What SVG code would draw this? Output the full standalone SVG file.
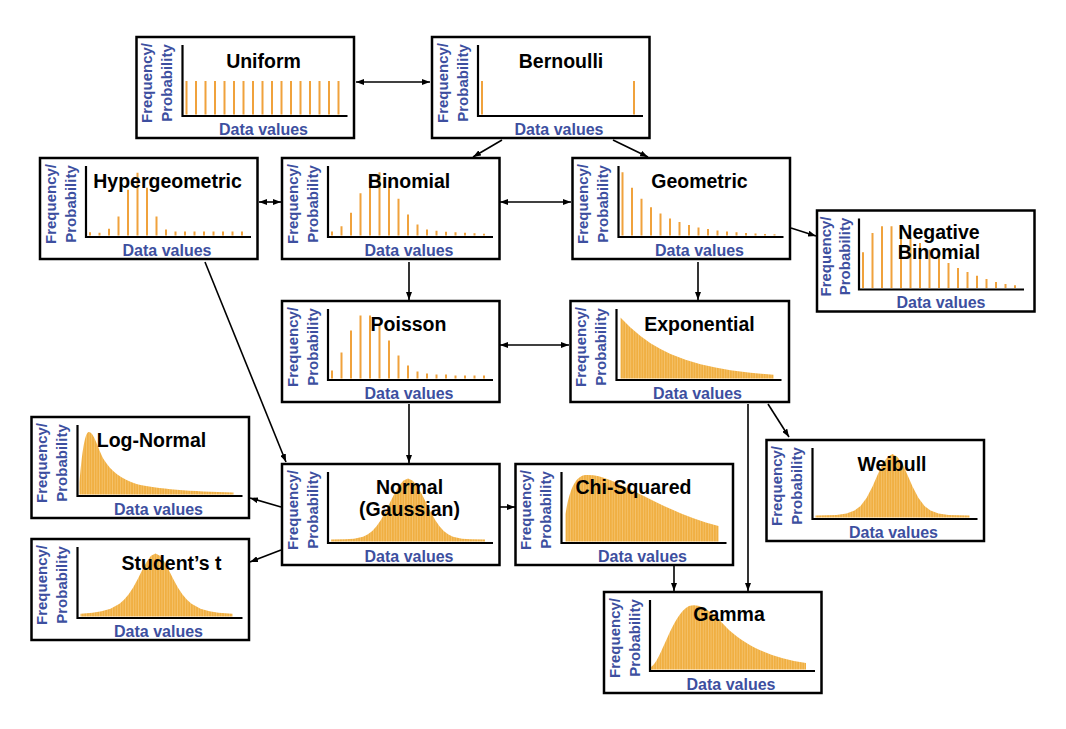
<svg xmlns="http://www.w3.org/2000/svg" width="1066" height="729" viewBox="0 0 1066 729">
<defs>
<pattern id="stripes" width="2.6" height="20" patternUnits="userSpaceOnUse">
<rect width="2.6" height="20" fill="#F0AF42"/>
<rect width="0.7" height="20" fill="#F7C877"/>
</pattern>
<marker id="ah" viewBox="0 0 8 6" refX="8" refY="3" markerWidth="8" markerHeight="6" markerUnits="userSpaceOnUse" orient="auto-start-reverse">
<path d="M0,0 L8,3 L0,6 Z" fill="#000"/>
</marker>
</defs>
<style>
.box{fill:#fff;stroke:#000;stroke-width:2.5}
.ax{fill:none;stroke:#000;stroke-width:2.2}
.yl{font-family:"Liberation Sans",Arial,sans-serif;font-weight:bold;font-size:15px;fill:#3D4F9F;text-anchor:middle}
.xl{font-family:"Liberation Sans",Arial,sans-serif;font-weight:bold;font-size:16px;fill:#3D4F9F;text-anchor:middle}
.tt{font-family:"Liberation Sans",Arial,sans-serif;font-weight:bold;font-size:19.5px;fill:#000;text-anchor:middle}
.bar{fill:none;stroke:#F0A23C;stroke-width:2}
.cv{fill:url(#stripes)}
.cn{fill:none;stroke:#000;stroke-width:1.6}
.one{marker-end:url(#ah)}
.two{marker-start:url(#ah);marker-end:url(#ah)}
</style>
<rect width="1066" height="729" fill="#fff"/>

<g id="connectors">
<path class="cn two" d="M356,82 L430,82"/>
<path class="cn one" d="M502,140 L473,157"/>
<path class="cn one" d="M613,140 L648,157"/>
<path class="cn two" d="M259,202 L281,202"/>
<path class="cn two" d="M500,202 L571,202"/>
<path class="cn one" d="M791,228 L816,236"/>
<path class="cn one" d="M409,262 L409,300"/>
<path class="cn one" d="M698,262 L698,300"/>
<path class="cn two" d="M500,345 L569,345"/>
<path class="cn one" d="M205,262 L286,462"/>
<path class="cn one" d="M409,404 L409,463"/>
<path class="cn one" d="M281,507 L250,498"/>
<path class="cn one" d="M281,550 L250,562"/>
<path class="cn one" d="M500,507 L515,507"/>
<path class="cn one" d="M768,404 L789,437"/>
<path class="cn one" d="M748,404 L748,591"/>
<path class="cn one" d="M674,566 L674,591"/>
</g>

<g id="n-uniform" transform="translate(136.5,37)">
<rect class="box" width="217.5" height="101"/>
<path class="bar" d="M50,44V77.5M59.5,44V77.5M69,44V77.5M78.5,44V77.5M88,44V77.5M97.5,44V77.5M107,44V77.5M116.5,44V77.5M126,44V77.5M135.5,44V77.5M145,44V77.5M154.5,44V77.5M164,44V77.5M173.5,44V77.5M183,44V77.5M192.5,44V77.5M202,44V77.5"/>
<path class="ax" d="M46,8V79H211"/>
<text class="yl" transform="translate(15.5,46) rotate(-90)">Frequency/</text>
<text class="yl" transform="translate(35.5,46) rotate(-90)">Probability</text>
<text class="xl" x="127" y="97.5">Data values</text>
<text class="tt" x="127" y="31">Uniform</text>
</g>

<g id="n-bernoulli" transform="translate(432,37)">
<rect class="box" width="217.5" height="101"/>
<path class="bar" d="M50,44V77.5M202,44V77.5"/>
<path class="ax" d="M46,8V79H211"/>
<text class="yl" transform="translate(15.5,46) rotate(-90)">Frequency/</text>
<text class="yl" transform="translate(35.5,46) rotate(-90)">Probability</text>
<text class="xl" x="127" y="97.5">Data values</text>
<text class="tt" x="129" y="31">Bernoulli</text>
</g>

<g id="n-hypergeometric" transform="translate(40,158)">
<rect class="box" width="217.5" height="101"/>
<path class="bar" d="M50,74.2V77.5M59.5,74.8V77.5M69,70.8V77.5M78.5,58.5V77.5M88,31.8V77.5M97.5,14.8V77.5M107,29.8V77.5M116.5,58.5V77.5M126,71.5V77.5M135.5,73.5V77.5M145,73.5V77.5M154.5,73.5V77.5M164,73.5V77.5M173.5,73.5V77.5M183,73.5V77.5M192.5,73.5V77.5M202,73.5V77.5"/>
<path class="ax" d="M46,8V79H211"/>
<text class="yl" transform="translate(15.5,46) rotate(-90)">Frequency/</text>
<text class="yl" transform="translate(35.5,46) rotate(-90)">Probability</text>
<text class="xl" x="127" y="97.5">Data values</text>
<text class="tt" x="127.5" y="30">Hypergeometric</text>
</g>

<g id="n-binomial" transform="translate(282,158)">
<rect class="box" width="217.5" height="101"/>
<path class="bar" d="M50,73.5V77.5M59.5,68.2V77.5M69,54.8V77.5M78.5,35.2V77.5M88,22.5V77.5M97.5,14.2V77.5M107,22.5V77.5M116.5,40.8V77.5M126,56.5V77.5M135.5,66.5V77.5M145,71.5V77.5M154.5,72.8V77.5M164,73.8V77.5M173.5,74.2V77.5M183,74.8V77.5M192.5,75.2V77.5M202,75.8V77.5"/>
<path class="ax" d="M46,8V79H211"/>
<text class="yl" transform="translate(15.5,46) rotate(-90)">Frequency/</text>
<text class="yl" transform="translate(35.5,46) rotate(-90)">Probability</text>
<text class="xl" x="127" y="97.5">Data values</text>
<text class="tt" x="127" y="30">Binomial</text>
</g>

<g id="n-geometric" transform="translate(572.5,158)">
<rect class="box" width="217.5" height="101"/>
<path class="bar" d="M50,14.2V77.5M59.5,29.8V77.5M69,40.8V77.5M78.5,49.2V77.5M88,55.5V77.5M97.5,60.5V77.5M107,64V77.5M116.5,67V77.5M126,69.5V77.5M135.5,71V77.5M145,72.5V77.5M154.5,73.5V77.5M164,74.3V77.5M173.5,75V77.5M183,75.5V77.5M192.5,75.9V77.5M202,76.2V77.5"/>
<path class="ax" d="M46,8V79H211"/>
<text class="yl" transform="translate(15.5,46) rotate(-90)">Frequency/</text>
<text class="yl" transform="translate(35.5,46) rotate(-90)">Probability</text>
<text class="xl" x="127" y="97.5">Data values</text>
<text class="tt" x="127" y="30">Geometric</text>
</g>

<g id="n-negative-binomial" transform="translate(817,210.5)">
<rect class="box" width="217.5" height="101"/>
<path class="bar" d="M46,41.8V77.5M55.5,22.5V77.5M65,15.8V77.5M74.5,15.8V77.5M84,20.2V77.5M93.5,26.8V77.5M103,32.5V77.5M112.5,39.2V77.5M122,45.8V77.5M131.5,52.5V77.5M141,57.5V77.5M150.5,61.5V77.5M160,65.2V77.5M169.5,68.5V77.5M179,71.5V77.5M188.5,73.5V77.5M198,74.8V77.5"/>
<path class="ax" d="M42,8V79H207"/>
<text class="yl" transform="translate(13.5,46) rotate(-90)">Frequency/</text>
<text class="yl" transform="translate(33,46) rotate(-90)">Probability</text>
<text class="xl" x="124" y="97.5">Data values</text>
<text class="tt" x="122" y="28.5">Negative</text>
<text class="tt" x="122" y="48.5">Binomial</text>
</g>

<g id="n-poisson" transform="translate(282,301)">
<rect class="box" width="217.5" height="101"/>
<path class="bar" d="M50,69.5V77.5M59.5,51.5V77.5M69,29.5V77.5M78.5,14.5V77.5M88,14.5V77.5M97.5,24.5V77.5M107,39.5V77.5M116.5,54.5V77.5M126,64.5V77.5M135.5,70.5V77.5M145,72.5V77.5M154.5,73.5V77.5M164,73.5V77.5M173.5,74.5V77.5M183,74.5V77.5M192.5,74.5V77.5M202,74.5V77.5"/>
<path class="ax" d="M46,8V79H211"/>
<text class="yl" transform="translate(15.5,46) rotate(-90)">Frequency/</text>
<text class="yl" transform="translate(35.5,46) rotate(-90)">Probability</text>
<text class="xl" x="127" y="97.5">Data values</text>
<text class="tt" x="126.5" y="30">Poisson</text>
</g>

<g id="n-exponential" transform="translate(570.5,301)">
<rect class="box" width="218.5" height="101"/>
<path class="cv" d="M50,77.5V16.5L60,26.6L70,35.1L80,42.2L90,48L100,52.9L115,58.8L130,63.2L145,66.6L160,69.2L180,71.8L203,73.7V77.5Z"/>
<path class="ax" d="M46,8V79H211"/>
<text class="yl" transform="translate(15.5,46) rotate(-90)">Frequency/</text>
<text class="yl" transform="translate(35.5,46) rotate(-90)">Probability</text>
<text class="xl" x="127" y="97.5">Data values</text>
<text class="tt" x="129" y="30">Exponential</text>
</g>

<g id="n-log-normal" transform="translate(31.5,417)">
<rect class="box" width="217.5" height="101"/>
<path class="cv" d="M48,77.5L48,66C50,40 53,16 57,15C62,14 66,30 72,42C80,55 90,62 105,67C125,72 160,74.5 202,75.5L202,77.5Z"/>
<path class="ax" d="M46,8V79H211"/>
<text class="yl" transform="translate(15.5,46) rotate(-90)">Frequency/</text>
<text class="yl" transform="translate(35.5,46) rotate(-90)">Probability</text>
<text class="xl" x="127" y="97.5">Data values</text>
<text class="tt" x="120" y="30">Log-Normal</text>
</g>

<g id="n-normal" transform="translate(282,464)">
<rect class="box" width="217.5" height="101"/>
<path class="cv" d="M49,77.5L49,75.5L63,75.3L72,74.8L81,72.8L85.5,70.6L90,67.2L94.5,62.3L99,55.7L103.5,47.6L108,38.5L112.5,29.5L117,21.7L121.5,16.4L126,14.5L130.5,16.4L135,21.7L139.5,29.5L144,38.5L148.5,47.6L153,55.7L157.5,62.3L162,67.2L166.5,70.6L171,72.8L180,74.8L189,75.3L203,75.5L203,77.5Z"/>
<path class="ax" d="M46,8V79H211"/>
<text class="yl" transform="translate(15.5,46) rotate(-90)">Frequency/</text>
<text class="yl" transform="translate(35.5,46) rotate(-90)">Probability</text>
<text class="xl" x="127" y="97.5">Data values</text>
<text class="tt" x="127.5" y="30">Normal</text>
<text class="tt" x="127.5" y="52">(Gaussian)</text>
</g>

<g id="n-chi-squared" transform="translate(515.5,464)">
<rect class="box" width="217.5" height="101"/>
<path class="cv" d="M50,77.5L50,50C54,25 60,12 70,11C85,10 100,18 120,28C150,43 175,55 203,62L203,77.5Z"/>
<path class="ax" d="M46,8V79H211"/>
<text class="yl" transform="translate(15.5,46) rotate(-90)">Frequency/</text>
<text class="yl" transform="translate(35.5,46) rotate(-90)">Probability</text>
<text class="xl" x="127" y="97.5">Data values</text>
<text class="tt" x="118" y="30">Chi-Squared</text>
</g>

<g id="n-weibull" transform="translate(766.5,440)">
<rect class="box" width="217.5" height="101"/>
<path class="cv" d="M49,77.5L49,75.5L70,75L80,73.5L88,70.5L94,66L100,58L106,46.5L111,35L116,24L121,17L126,14L131,17L136,24L141,35L146,46.5L152,58L158,66L164,70.5L172,73.5L182,75L203,75.5L203,77.5Z"/>
<path class="ax" d="M46,8V79H211"/>
<text class="yl" transform="translate(15.5,46) rotate(-90)">Frequency/</text>
<text class="yl" transform="translate(35.5,46) rotate(-90)">Probability</text>
<text class="xl" x="127" y="97.5">Data values</text>
<text class="tt" x="125.5" y="31">Weibull</text>
</g>

<g id="n-students-t" transform="translate(31.5,539)">
<rect class="box" width="217.5" height="101"/>
<path class="cv" d="M49,77.5L49,74.7L61,73.7L70,72.3L79,69.7L88,64.7L92.5,60.8L97,55.5L101.5,48.8L106,40.6L110.5,31.6L115,23L119.5,16.8L124,14.5L128.5,16.8L133,23L137.5,31.6L142,40.6L146.5,48.8L151,55.5L155.5,60.8L160,64.7L169,69.7L178,72.3L187,73.7L201,74.7L201,77.5Z"/>
<path class="ax" d="M46,8V79H211"/>
<text class="yl" transform="translate(15.5,46) rotate(-90)">Frequency/</text>
<text class="yl" transform="translate(35.5,46) rotate(-90)">Probability</text>
<text class="xl" x="127" y="97.5">Data values</text>
<text class="tt" x="140" y="31">Student’s t</text>
</g>

<g id="n-gamma" transform="translate(604,592)">
<rect class="box" width="217.5" height="101"/>
<path class="cv" d="M47,77.5L47,75C57,70 68,22 85,14C98,10 110,22 125,38C145,56 170,66 202,71L202,77.5Z"/>
<path class="ax" d="M46,8V79H211"/>
<text class="yl" transform="translate(15.5,46) rotate(-90)">Frequency/</text>
<text class="yl" transform="translate(35.5,46) rotate(-90)">Probability</text>
<text class="xl" x="127" y="97.5">Data values</text>
<text class="tt" x="125" y="29">Gamma</text>
</g>
</svg>
